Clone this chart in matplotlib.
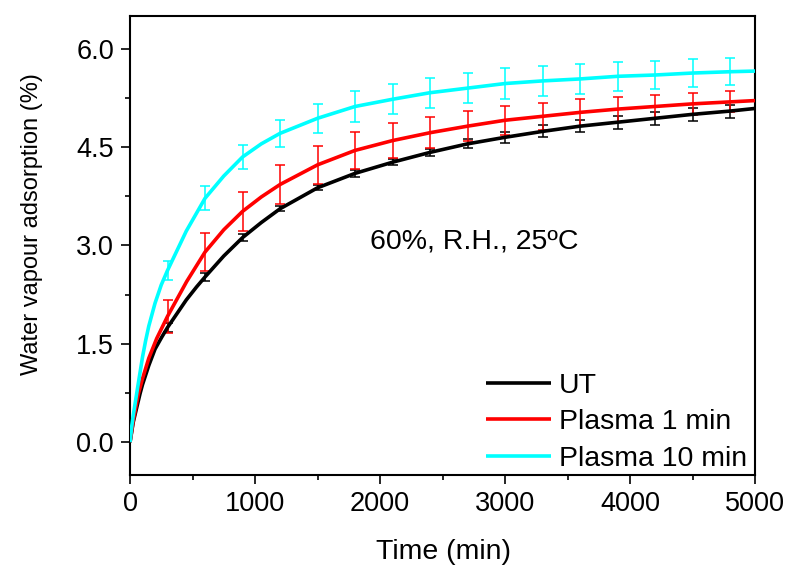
import matplotlib
matplotlib.use("Agg")
import matplotlib.pyplot as plt
import numpy as np

plt.rcParams['font.family'] = ['Liberation Sans', 'DejaVu Sans']

# ---- data ----
t_ut = [0, 25, 80, 100, 150, 200, 253, 300, 450, 533, 600, 750, 900, 1050, 1200,
        1500, 1800, 2100, 2400, 2700, 3000, 3300, 3600, 3900, 4200, 4500, 4800, 5000]
y_ut = [0, 0.30, 0.74, 0.88, 1.17, 1.42, 1.60, 1.75, 2.17, 2.37, 2.52, 2.84, 3.12, 3.35, 3.56,
        3.88, 4.10, 4.27, 4.42, 4.55, 4.65, 4.74, 4.82, 4.88, 4.94, 5.00, 5.05, 5.09]

t_p1 = [0, 25, 67, 100, 150, 213, 300, 453, 600, 750, 900, 1050, 1200,
        1500, 1800, 2100, 2400, 2700, 3000, 3300, 3600, 3900, 4200, 4500, 4800, 5000]
y_p1 = [0, 0.32, 0.74, 0.97, 1.28, 1.58, 1.92, 2.45, 2.90, 3.24, 3.52, 3.74, 3.93,
        4.23, 4.45, 4.60, 4.72, 4.82, 4.91, 4.97, 5.03, 5.08, 5.12, 5.16, 5.19, 5.21]

t_p10 = [0, 13, 25, 53, 100, 125, 150, 200, 250, 300, 450, 600, 750, 900, 1050, 1200,
         1500, 1800, 2100, 2400, 2700, 3000, 3300, 3600, 3900, 4200, 4500, 4800, 5000]
y_p10 = [0, 0.23, 0.40, 0.74, 1.30, 1.55, 1.77, 2.12, 2.40, 2.62, 3.22, 3.72, 4.06, 4.35, 4.55, 4.71,
         4.94, 5.12, 5.23, 5.33, 5.40, 5.47, 5.51, 5.54, 5.58, 5.60, 5.63, 5.65, 5.66]

t_err = [300, 600, 900, 1200, 1500, 1800, 2100, 2400, 2700, 3000, 3300, 3600, 3900, 4200, 4500, 4800]
err_ut = [0.07, 0.06, 0.05, 0.04, 0.04, 0.05, 0.05, 0.05, 0.07, 0.08, 0.09, 0.09, 0.10, 0.10, 0.10, 0.10]
err_p1 = [0.25, 0.29, 0.30, 0.30, 0.29, 0.28, 0.27, 0.24, 0.23, 0.22, 0.21, 0.21, 0.19, 0.18, 0.17, 0.16]
err_p10 = [0.15, 0.18, 0.19, 0.21, 0.22, 0.23, 0.23, 0.23, 0.23, 0.23, 0.23, 0.23, 0.22, 0.22, 0.22, 0.21]

labels = ["UT", "Plasma 1 min", "Plasma 10 min"]
colors = ["#000000", "#FF0000", "#00FFFF"]

fig = plt.figure(figsize=(7.89, 5.65), dpi=100)
ax = fig.add_axes([0.1648, 0.1593, 0.7922, 0.8124])

series = [(t_ut, y_ut, err_ut), (t_p1, y_p1, err_p1), (t_p10, y_p10, err_p10)]
for (t, y, e), c, lab in zip(series, colors, labels):
    lookup = dict(zip(t, y))
    ym = [lookup[v] for v in t_err]
    ax.errorbar(t_err, ym, yerr=e, fmt='none', ecolor=c, elinewidth=1.1,
                capsize=3.6, capthick=1.1, zorder=2)
for (t, y, e), c, lab in zip(series, colors, labels):
    ax.plot(t, y, color=c, lw=2.6, label=lab, zorder=3, solid_capstyle='butt',
            solid_joinstyle='round')

ax.set_xlim(0, 5000)
ax.set_ylim(-0.5, 6.5)
ax.set_xticks([0, 1000, 2000, 3000, 4000, 5000])
ax.set_xticks([500, 1500, 2500, 3500, 4500], minor=True)
ax.set_yticks([0.0, 1.5, 3.0, 4.5, 6.0])
ax.set_yticks([0.75, 2.25, 3.75, 5.25], minor=True)
ax.set_yticklabels(["0.0", "1.5", "3.0", "4.5", "6.0"])

for s in ax.spines.values():
    s.set_linewidth(1.5)
ax.tick_params(which='major', direction='out', length=6.5, width=1.2, labelsize=19.5, pad=5)
ax.tick_params(which='minor', direction='out', length=3.5, width=1.2)
ax.tick_params(top=False, right=False)

ax.set_xlabel("Time (min)", fontsize=20.5)
ax.xaxis.set_label_coords(0.502, -0.139)
ax.set_ylabel("Water vapour adsorption (%)", fontsize=17)
ax.yaxis.set_label_coords(-0.139, 0.546)

ax.text(2752, 3.06, "60%, R.H., 25ºC", fontsize=20.5, ha='center', va='center')

leg = ax.legend(loc='upper left', bbox_to_anchor=(0.569, 0.223), frameon=False,
                fontsize=20.5, handlelength=2.3, handletextpad=0.28, labelspacing=0.38,
                borderpad=0, borderaxespad=0)

fig.savefig("out.png", dpi=100)
